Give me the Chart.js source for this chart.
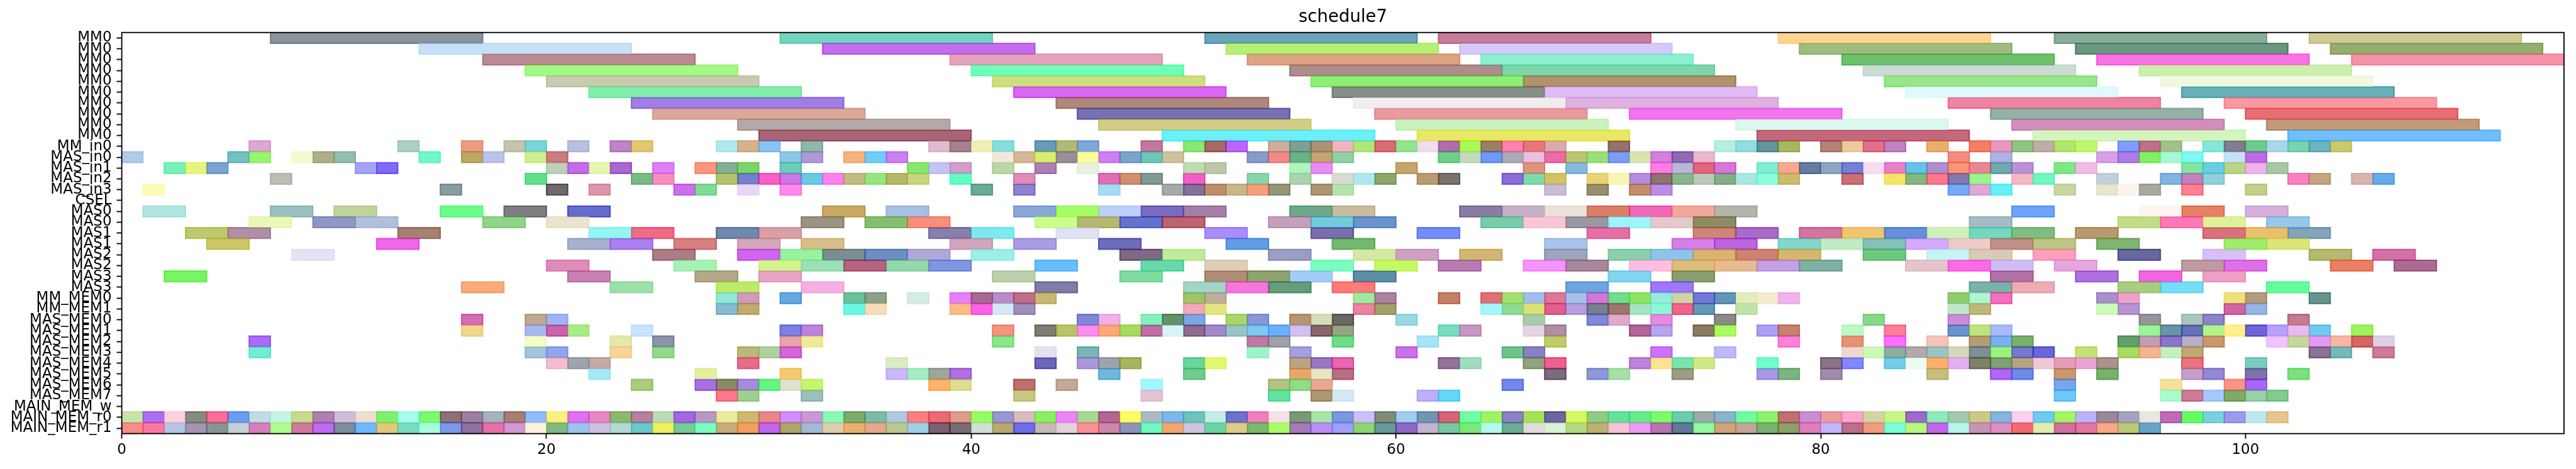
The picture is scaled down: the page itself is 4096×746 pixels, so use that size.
<!DOCTYPE html>
<html>
<head>
<meta charset="utf-8">
<title>schedule7</title>
<style>
  html, body { margin: 0; padding: 0; background: #fff; overflow: hidden; }
  canvas { display: block; }
</style>
<script src="https://cdn.jsdelivr.net/npm/chart.js@4/dist/chart.umd.min.js"></script>
</head>
<body>
<canvas id="chart" width="4096" height="746"></canvas>
<script>
const chartTitle = 'schedule7'
const xTicks = [0, 20, 40, 60, 80, 100]

const rowLabels = [
  'MM0', 'MM0', 'MM0', 'MM0', 'MM0', 'MM0', 'MM0', 'MM0', 'MM0', 'MM0',
  'MM_in0', 'MAS_in0', 'MAS_in1', 'MAS_in2', 'MAS_in3', 'CSEL',
  'MAS0', 'MAS0', 'MAS1', 'MAS1', 'MAS2', 'MAS2', 'MAS3', 'MAS3',
  'MM_MEM0', 'MM_MEM1',
  'MAS_MEM0', 'MAS_MEM1', 'MAS_MEM2', 'MAS_MEM3', 'MAS_MEM4', 'MAS_MEM5', 'MAS_MEM6', 'MAS_MEM7',
  'MAIN_MEM_w', 'MAIN_MEM_r0', 'MAIN_MEM_r1',
]

// how long a task stays on each row
const rowDurations = [
  10, 10, 10, 10, 10, 10, 10, 10, 10, 10,
  1, 1, 1, 1, 1, 1,
  2, 2, 2, 2, 2, 2, 2, 2,
  1, 1,
  1, 1, 1, 1, 1, 1, 1, 1,
  1, 1, 1,
]

// start time of every task, one list per row
const rowStarts = [
  [7, 31, 51, 62, 78, 91, 103],
  [14, 33, 52, 63, 79, 92, 104],
  [17, 39, 53, 64, 81, 93, 105],
  [19, 40, 55, 65, 82, 95],
  [20, 41, 56, 66, 83, 96],
  [22, 42, 57, 67, 84, 97],
  [24, 44, 58, 68, 86, 99],
  [25, 45, 59, 71, 88, 100],
  [29, 46, 60, 76, 89, 101],
  [30, 49, 61, 77, 90, 102],
  [6, 13, 16, 18, 19, 21, 23, 24, 28, 29, 30, 32, 38, 39, 40, 41, 43, 44, 45, 48, 50, 51, 52, 54, 55, 56, 57, 58, 59, 60, 61, 62, 63, 64, 65, 66, 67, 70, 75, 76, 77, 78, 80, 81, 82, 83, 85, 87, 88, 89, 90, 91, 92, 94, 95, 96, 98, 99, 100, 101, 102, 103, 104],
  [0, 5, 6, 8, 9, 10, 14, 16, 17, 19, 20, 31, 32, 34, 35, 36, 41, 42, 43, 44, 45, 46, 47, 48, 49, 53, 54, 55, 56, 57, 62, 63, 64, 65, 66, 67, 68, 69, 70, 71, 72, 73, 74, 86, 88, 93, 94, 95, 96, 97, 99, 100],
  [2, 3, 4, 11, 12, 20, 21, 22, 23, 25, 27, 28, 29, 31, 37, 38, 39, 41, 43, 45, 50, 51, 55, 56, 60, 66, 68, 72, 73, 74, 75, 77, 78, 79, 80, 81, 82, 83, 84, 85, 86, 87, 88, 89, 91, 92, 97, 98, 99, 100, 101],
  [7, 19, 24, 25, 28, 29, 30, 31, 32, 33, 34, 35, 36, 37, 39, 42, 46, 47, 48, 50, 53, 55, 57, 58, 59, 61, 62, 65, 66, 67, 69, 70, 71, 72, 73, 74, 75, 76, 77, 78, 81, 83, 84, 85, 86, 87, 89, 90, 93, 96, 97, 98, 102, 103, 105, 106],
  [1, 15, 20, 22, 26, 27, 29, 31, 40, 42, 46, 49, 50, 51, 52, 53, 54, 56, 57, 67, 69, 71, 72, 86, 87, 88, 91, 93, 94, 95, 97, 100],
  [],
  [1, 7, 10, 15, 18, 21, 33, 36, 42, 44, 46, 48, 50, 55, 57, 63, 65, 67, 69, 71, 73, 75, 89, 95, 97, 100],
  [6, 9, 11, 17, 20, 32, 35, 37, 43, 45, 47, 49, 54, 56, 58, 64, 66, 68, 70, 72, 74, 87, 94, 96, 98, 101],
  [3, 5, 13, 22, 24, 28, 30, 38, 40, 44, 51, 56, 61, 69, 74, 76, 79, 81, 83, 85, 87, 89, 92, 98, 100, 102],
  [4, 12, 21, 23, 26, 29, 32, 39, 42, 46, 52, 57, 67, 73, 75, 78, 80, 82, 84, 86, 88, 90, 93, 99, 101],
  [8, 25, 29, 31, 33, 35, 37, 40, 47, 49, 54, 58, 60, 63, 67, 70, 72, 74, 76, 78, 82, 85, 87, 90, 94, 98, 103, 106],
  [20, 26, 30, 32, 34, 36, 38, 43, 48, 51, 56, 59, 62, 66, 68, 71, 73, 75, 77, 79, 84, 86, 88, 91, 97, 99, 104, 107],
  [2, 21, 27, 30, 41, 47, 51, 53, 55, 58, 70, 73, 88, 92, 95, 98],
  [16, 23, 28, 32, 43, 50, 52, 54, 57, 68, 72, 87, 89, 94, 96, 101],
  [28, 29, 31, 34, 35, 37, 39, 40, 41, 42, 43, 50, 51, 58, 59, 62, 64, 65, 66, 67, 68, 69, 70, 71, 72, 73, 74, 75, 76, 77, 78, 86, 87, 88, 93, 94, 99, 100, 103],
  [28, 29, 34, 35, 39, 40, 41, 42, 50, 51, 58, 59, 64, 65, 66, 67, 68, 69, 70, 71, 72, 73, 74, 76, 86, 87, 93, 94, 99, 100],
  [16, 19, 20, 45, 46, 48, 49, 50, 52, 53, 55, 56, 57, 60, 66, 69, 70, 72, 75, 82, 86, 95, 97, 98, 102],
  [16, 19, 20, 21, 24, 31, 32, 41, 43, 44, 45, 46, 47, 48, 49, 50, 51, 52, 53, 54, 55, 56, 57, 62, 63, 66, 67, 71, 72, 74, 75, 77, 78, 81, 83, 86, 87, 88, 95, 96, 97, 98, 99, 100, 101, 102, 103, 105],
  [6, 19, 23, 25, 31, 32, 41, 53, 54, 57, 61, 67, 78, 81, 83, 85, 87, 88, 89, 94, 95, 96, 97, 98, 101, 102, 103, 104, 105, 106],
  [6, 19, 20, 23, 25, 29, 30, 31, 43, 45, 53, 55, 60, 65, 66, 72, 75, 81, 82, 83, 84, 85, 86, 87, 88, 89, 90, 92, 94, 95, 96, 97, 103, 104, 106],
  [20, 21, 22, 29, 36, 43, 45, 46, 47, 50, 51, 55, 56, 57, 62, 63, 66, 67, 71, 72, 73, 74, 77, 80, 81, 83, 84, 85, 86, 87, 88, 89, 90, 91, 92, 93, 97, 100],
  [22, 27, 31, 36, 37, 38, 39, 46, 50, 55, 56, 57, 67, 69, 70, 73, 77, 78, 80, 85, 88, 89, 91, 93, 97, 98, 100, 102],
  [24, 27, 28, 29, 30, 31, 32, 38, 39, 42, 44, 48, 54, 55, 56, 65, 91, 96, 99, 100],
  [28, 29, 32, 42, 48, 54, 56, 57, 61, 62, 91, 96, 97, 98, 99, 100, 101],
  [],
  [0, 1, 2, 3, 4, 5, 6, 7, 8, 9, 10, 11, 12, 13, 14, 15, 16, 17, 18, 19, 20, 21, 22, 23, 24, 25, 26, 27, 28, 29, 30, 31, 32, 33, 34, 35, 36, 37, 38, 39, 40, 41, 42, 43, 44, 45, 46, 47, 48, 49, 50, 51, 52, 53, 54, 55, 56, 57, 58, 59, 60, 61, 62, 63, 64, 65, 66, 67, 68, 69, 70, 71, 72, 73, 74, 75, 76, 77, 78, 79, 80, 81, 82, 83, 84, 85, 86, 87, 88, 89, 90, 91, 92, 93, 94, 95, 96, 97, 98, 99, 100, 101],
  [0, 1, 2, 3, 4, 5, 6, 7, 8, 9, 10, 11, 12, 13, 14, 15, 16, 17, 18, 19, 20, 21, 22, 23, 24, 25, 26, 27, 28, 29, 30, 31, 32, 33, 34, 35, 36, 37, 38, 39, 40, 41, 42, 43, 44, 45, 46, 47, 48, 49, 50, 51, 52, 53, 54, 55, 56, 57, 58, 59, 60, 61, 62, 63, 64, 65, 66, 67, 68, 69, 70, 71, 72, 73, 74, 75, 76, 77, 78, 79, 80, 81, 82, 83, 84, 85, 86, 87, 88, 89, 90, 91, 92, 93, 94, 95],
]

// colour each task shows on white, one string per row, same order as rowStarts
const rowColors = [
  '8B949E 74D3BE 6BA5BA C77C9C FFD592 89AD98 CFC996',
  'C5E0F7 C26FEF B6EF78 D4C9FA A0BD7F 6B9780 97AD70',
  'BC8B93 E5A3BD DCA584 8CF0D0 6EC16C FB73E4 F593A8',
  'A5F886 70FDBA AE8D8D 80D5AB CCDBD4 CCEFAE',
  'CACAB0 CEDF80 8EEE76 B0936C 98E688 F0F9E0',
  '84EDAA D965F5 858F88 E1BAF5 E0F8FF 68B0B8',
  'A07EE5 AF887C F1ECEE DDB3E0 EE83A2 FA98A2',
  'DBA899 7571B2 E89A9E F376EE 93B3A6 E86E76',
  'B5A8A6 D3CE85 CAF1BC DAF8EE D38FBC C49A7C',
  'A86476 6BEFFA E8E864 C46A7D D4F5BE 70BFFA',
  'DCA7D0 AAD0C6 EAA080 C2C4AC 7CD5D8 B7C1DC BF84C8 E0C874 B2E8EC D6B38D 88C4F4 8DB9A6 E1BAD3 A5838F F0EEB8 85DEDC 6A9AB6 B2B878 82A7D8 C478A0 8AE676 A86A68 B967FA CCAE9E 7F9F98 A99478 F4B4BE B0E878 D66E76 94E48E F0DDEB B06EAE A8FA58 9C7E68 FD82B0 E87878 D9ACAE 96706E B6EEDF 94DCE0 65949A A6B766 B58278 E8CC9E E0708E C084BE EBAE6E F37F6A E899BC 90C484 BFAEA8 B4E46E BEF870 7F9DFC BF7088 A6C08C 88E6D8 847C90 70CC8C A8D8EA 78D3B0 6FB4C0 C8CA70',
  'B0CAE8 72C0C2 98F474 F4FAD4 B0AE8C 94BEB0 70F8C8 BCA866 B8C4EA CEEE90 CA7C7E 8CC6E2 AE9AD6 F6B37A 74CCF8 CC82F2 F5E8DA D2B896 D8EC70 989098 FAFC9C CC80F2 7CA4CA 6EC6B8 CDC29C 889AC6 F08A8A 68B488 C6A474 90D0A6 6ED08C C6D9BC 7098F4 ADAAB4 EABFE2 EA6EA4 BDC472 9CDE7E 7F9CF4 D8E4B0 D47EDE 8F6AB2 EAB8CE F68B80 AEB2E0 D8A0E4 AE7EE6 82F064 A8F8D4 7FF8F0 C6E0F5 BC6CE4',
  '7AF0B8 E6F480 7CA4D0 A4A4F6 7F6CF4 BED0B8 C46CE8 E4F6B0 A86AD0 DE80F6 FD9680 88AE98 7ED46C 6CCDB8 8AE670 C4C4F4 D29ECC BCD6A6 AC80B6 E8F0E0 C2D9B4 BDC8AC AEF4BC E88CF6 C4A670 DC947E 8AB8DE FC7EE0 B7B7D8 E0647C D678D8 80ECD0 F8A892 647EA0 8EA6C0 7480D4 F8DCF4 E880C8 68C2E8 AE92CC FC9478 E98698 72A8AE BC92DA 7EE888 F0BCE6 84E4A4 6CCDE2 BAD488 EEB2EA A6C8A6',
  'BABEB4 62E08C 7CB988 F68EC4 B2C46C 7680C8 F860C4 CA78E2 6CC8E4 FC82F0 C0BC84 98E484 B7B86A C6D67E 66FCC0 DC8CB8 E06EB6 D08E74 809A94 F060C4 88D4AC ACD4AE DADAD2 AEE8EE 8CA66C BA9C72 78746C 8C6CD8 7EDAAC D4C268 E8D27A FAF4B4 B48EDC 8E746E 8CB68C BEC8BC 86AE84 AAE6E2 8EFCDC CABC6C CC6E74 F5E46C 84B880 FC7890 8278AE 98F48E F4B8C6 70F8C0 C2D0DA 82B2E0 C080BC 90D0DE FA80C0 C4A680 D8B4AE 68ACEA',
  'FEFAB8 889EA2 6E6A6C DC98AA CC70EC 80DA98 E8D8F6 FE88EC 6CAC98 8C84CE A4DCF4 A4AAA8 847498 C0906C C8B68C F4A07C 949878 AE9674 B4E4AE C8BCD6 98906E C4906C BC90E6 78A8F4 E0A8D6 68F0F8 C6D6A4 E9E4CE FCF4F2 A8AC9C FC8490 C4D08C',
  '',
  'B0E4E0 9BC0C2 C0D49C 6CFC8C 807E84 666CCC C8A862 A8C0E6 8AA8D6 A6FC68 BCD0F8 7A6CC0 A480A8 70A88C C8BCA0 8A7EA4 C6B2C6 E9E2D8 D98068 F06AB8 F0A89C B4B6AC 6EA4F8 FDF6F0 E58268 D4B0DC',
  'E8F8B8 9098C4 B2C0DE 90D488 EBE4CC 9C9484 86BE70 F88E7C CCFC8E B7B674 6672CC BC6470 C4A0BC 74CCDC 6B94CC 78CCA8 FAC6D6 9898A4 9CF4FC E4C8CC 8E8C64 A4BCC4 C4DC88 FC78B6 DEF09E 96C8E8',
  'BEC96E B090A6 A48274 94F6F0 ED6C86 7088AC DAA0A8 8680AA 7EEAF0 DEE2F4 A88EFA 7A6EAC 768CF8 E670A4 CE8678 A76CC8 D476A0 F0C470 6A90DC CEF0BA 72D8C0 84BC80 B89A70 D8747E E8C070 84A4BA',
  'CCC86A F068E8 A8B0D0 AC80F0 D68080 D4A8B8 D8BE88 D4A4BE AC9CE4 6E6CBC 669EE4 74B870 A8C4EA D580E6 BA66E0 84D6CC C0ECC4 84C0B8 D4ACFC EECAC8 C09088 BEC684 80B474 A0EC6C DCE47C',
  'E2E4F6 AC7C86 D264F0 98F2A0 7A8E94 6C8EC2 B2A8D8 9EEEE6 806A84 C0EA9C 9C9EC2 D4E8A4 D0A0C4 D2B672 9EA6BA 8CD0AC 90C4E8 D8B470 CC8470 D4B870 70C880 C6F4F4 D8CAB4 F8A0BC 6A68A0 D8C0F6 B4B870 D470A8',
  'DE8CBC A8F0B4 D2F48E 9CE0B8 B46480 94D8AC 8296E0 68BEFA 6AD8AC DECEB8 7CFDC0 C4F864 B87CB4 F594FC A8889C FDBEE0 DEBC7C E8BA94 C4A0E4 80B0A4 E6C4CC FA6CE4 D0BCF4 E4A8DC C09AA2 E06EE6 E98066 AC6C94',
  '78F466 C882B2 B4A888 E8A4C6 BCD0AC 82DCA0 B08E78 90A470 A4CCF6 5E90A8 84D4EE 88A070 B074A4 AE70DE F268E0 ECA0C4',
  'F8AC7C 9EE0A8 BEEA6C F4B0E2 807CA8 A4D4C8 F478DC 649C7C FC7C7A 70A4E0 9E78FC 7CB0A8 EEACB4 A8CC80 78DCF6 66FE9C',
  '92E8D4 D09CB8 68A8E0 70C09A 90A088 D4ECE4 E880FC A66C90 B48EC4 BC7088 C8B878 A0C46C BBAE9E A0E8A0 AC80A0 C48068 E07078 A4E070 A4BCEC DC7898 A8C0E8 D078D8 74DC90 90E464 96EAE0 CDD4A8 7478D4 6494B8 E4ECBE F4ECD2 F0B4EC 90CC70 B0F4D0 F470BC AA90CC EAA4CC F0E07C B49C80 689490',
  '88BCCE C2AC72 6CF8E4 FADBB8 FDBC88 FC64E8 D4E8F4 A08EBE F4A8B8 E4E684 EC84A0 A4A06C A6F6F8 90DC98 DCE078 E06090 B4A0DC 788090 9C7870 A6E4C4 8EF8D4 F0648C 6698B8 C0E4A8 C0E8C8 BEB87C CCFBBC B694D0 D068A4 98B4E0',
  'D46CB6 BFA890 A0B4F4 8088D8 F0B0E8 88F0BC 68906C 7CA8E0 A8D66C 8898D8 B89474 D4DEBC 6C6868 98D8E0 A8CCA8 8088D8 E0ACCA E888E0 8C8A88 88D88C CC8CD8 98949C ACC4BC 8C84C8 C47C90',
  'EFD68C A8B8F0 CC64AC ACEA88 C6E4FC 7C80E4 BE84DC F49484 807E74 BCC26C FA90F0 FCA878 A8DA64 C070A8 D8F4F4 906C8C A488C8 9AC4C4 80C8F0 6EB0FC CEC2EE 88686C 98A484 7ADCC0 C698C0 E4D4E4 B08EA4 B06898 B4A6EA 8A7C64 ACFA64 ACA0F4 C4846C BEF8C8 F88098 6C94CC C0E47C ACBAFC 9CF498 6C94A8 6A70B8 B4F490 FEF090 7068D4 B8A0FC E8BCF0 74C8EC 9CF460',
  'AC6CF8 F4FCC8 E4E8AC 8C94AC E4A4A8 F0EA98 8CE48C C078A4 A0A0A8 70DC88 A8E4F4 C0CC6C F884D8 E49474 FC70FC F4C4B4 B49C78 7CB0F0 7CB070 64A06C C49CB0 8C74CC B8B0C6 CC9870 F0C4FC C6D69C E49CF0 F4B8A4 D46868 E0D0E4',
  '74ECD4 A4C4DC 94A4E8 F8D498 94D88C BCB87C B0D0A0 D268D8 E8E0F0 7CB4B8 9CF4C8 A4A0E0 C874E8 6EC488 8C80C4 CC74FC C0B8FC F0D8D0 CCF8B8 8CB0A0 B4A8AC 9CC4C4 D4D8BC 7E9098 A0F080 7878CC 6868D8 C6E078 A8DC64 F4B490 C4F0C0 C0A874 8A7494 78B8B8 CC7C98',
  'F4BCD0 A0A4B0 C4ACA8 E86C90 D8ECC4 6C68B8 AC98D8 A0A4A8 A8B464 6CD49C E0F870 BCA480 9878C0 E868B0 947498 A0DCC0 90A47C F06090 BC84DC FAE494 7CE4B0 D0E888 74FCC8 8A7488 8088FC 74CCE8 ECFBF0 F8B070 E0B0F4 7C8468 80A078 B4A484 F0C8D8 E4A0B8 E8A4D4 A89488 E87484 7CCCC4',
  'A8E8F4 E4F0A0 F4CC70 CCB8F8 A8ECC4 9CA89C B070E0 70B8DC 70CC90 E4A86C E8E4C4 B87084 7C6C80 9098D8 A8E0A8 9C9E84 A898E4 7CB484 A08CAC C6BE80 B068F4 6C8CE8 C89870 7CB070 C4A0C8 9488D4 8074AC 7CE080',
  'AACC7C A870E4 8A8A68 A88CDC 68F484 E0E2CC C8F470 FCB46C DCDE94 BC7070 C4A898 A4F6FE B0C484 90DC8C E8A898 7488EC 78A8EC F4E09C FA9488 AC68F8',
  'FC7890 A0D090 9CC0BC C8C884 E4C4D4 64E4A0 AC9870 D4E8F4 BEB0F8 68D8F4 70C8F8 A8FCCC CC7C94 A8C8FA 80AC68 98D0A8 80CC90',
  '',
  'C6E4A8 AC70F0 FDD0DC 888C80 FC6C98 6C9CEC C0DCE4 C4F4E4 C6DC8C AE80B0 CEBCD8 EEDED0 80F070 A8FCEC 7CF870 907078 9C80A0 A4B4BC A48070 90BCFC F8F080 E070EC E888C0 8CB870 B880A0 BED8B8 A468E4 B898C4 E8EC9C CEB874 E88888 D090FC CC98D4 8CF8B8 7CAC6C 7CBCA4 B0C8E0 FC8080 E86C78 E09C8C 98FC64 9898D0 D8BCC0 88F064 EE84F8 A8D894 B06890 FAFC64 ACBCC8 7CB8EC 6CC4BC C4ECE8 6C74CC F080BC F8E0E8 7C9878 A8E4A8 7C98DC CCC0F8 808C78 A0CCF0 7494B4 D46478 70FCA8 A0F464 8C80C8 A4E45C 6C68A0 D4F864 90CC84 68E09C 68EC8C 7CFC6C 6CCCAC 9CAAA8 88B4CC 70FCA0 90F070 C07074 C890D4 EC9CA0 F8A8CC D4D4A8 C8F488 9C6CCC 8CECB8 A4C8B0 CEC888 88B4DC FCD0F0 70C8F4 A4F468 BCB4FA 9C8898 A4A4C0 E8E8E0 BC6CB8 68FC68 7CD0DC A098EC BCE8EC E8C490',
  'F48C8C FC78A0 B4C4E4 A494B0 889494 C4D0D4 D480BC B0FC90 D078A0 BC6CEC 7C8C9C 70B8FC E0C87C 78DCC0 A8FCDC 7C98E8 9070A0 E470A8 D098D4 FCF0D8 84B880 9CC4E8 CEC0E0 B4D8D4 6CC8C8 ECF060 78C898 7CFCC0 C8AC7C F0A060 BC68EC B0A468 A0BCD4 DECCAC E8B070 E4A890 B8C890 A0D0E8 7C6070 7C6C74 D0E0D8 B8A874 6C6CE8 C8B8B8 E0D4D8 FC9098 CC88A8 8C94BC 70F8C0 F0A874 CEC4E0 6CD4A4 DCCC8C 7CB870 A8FC6C A47CB8 BC90F4 A0A0FC 90D470 68989C 8C68C4 C0B4D0 78C8A4 7CE878 B4F8F0 6CAC94 E0DCDC D8F4D4 B4D880 BCB074 F4C4D4 EC9CF0 B874B0 647898 90F8A0 D0A478 C0A498 7CB074 8CA06C E080B8 C4B4FC B8708C F09C80 7CFCD8 B8F880 C068E8 B8F4EC C894B4 DC90C0 F06C74 E0ECB0 D070A0 E0789C F8A888 BCC878 68A4C8',
]

const barAlpha = 0.7
const fontFamily = '"DejaVu Sans"'

// rowColors are what shows on white, get back the colour to paint with barAlpha
function paintColor(hex) {
  const base = [0, 2, 4].map((i) => {
    const shown = parseInt(hex.slice(i, i + 2), 16)
    return Math.max(0, Math.round(255 - (255 - shown) / barAlpha))
  })
  return `rgba(${base[0]},${base[1]},${base[2]},${barAlpha})`
}

const bars = []
const barColors = []
rowStarts.forEach((starts, row) => {
  const colors = rowColors[row].split(' ').filter(Boolean)
  starts.forEach((start, i) => {
    bars.push({ x: [start, start + rowDurations[row]], y: row })
    barColors.push(paintColor(colors[i]))
  })
})

const frame = {
  id: 'frame',
  afterDraw(chart) {
    const { ctx, chartArea: a } = chart
    ctx.save()
    ctx.strokeStyle = '#000'
    ctx.lineWidth = 1.84
    ctx.strokeRect(a.left, a.top, a.right - a.left, a.bottom - a.top)
    ctx.restore()
  },
}

new Chart(document.getElementById('chart'), {
  type: 'bar',
  data: {
    datasets: [
      {
        data: bars,
        grouped: false,
        categoryPercentage: 1,
        barPercentage: 1,
        backgroundColor: barColors,
        borderWidth: 0,
        inflateAmount: 0,
      },
      // second pass for the outline, half of it outside the bar
      {
        data: bars,
        grouped: false,
        categoryPercentage: 1,
        barPercentage: 1,
        backgroundColor: 'rgba(0,0,0,0)',
        borderColor: barColors,
        borderWidth: 0.01,
        borderSkipped: false,
        inflateAmount: 1.15,
      },
    ],
  },
  plugins: [frame],
  options: {
    indexAxis: 'y',
    responsive: false,
    animation: false,
    events: [],
    layout: { padding: { left: 0, right: 19.1, top: 0, bottom: 0 } },
    plugins: {
      legend: { display: false },
      tooltip: { enabled: false },
      title: {
        display: true,
        fullSize: false,
        text: chartTitle,
        color: '#000',
        font: { family: fontFamily, size: 27.6, weight: 'normal', lineHeight: 1.2 },
        padding: { top: 11.2, bottom: 7.4 },
      },
    },
    scales: {
      x: {
        type: 'linear',
        min: 0,
        max: 115,
        afterFit(scale) { scale.height = 56.3 },
        afterBuildTicks(scale) { scale.ticks = xTicks.map((value) => ({ value })) },
        border: { display: false },
        grid: {
          drawOnChartArea: false,
          tickLength: 8,
          tickWidth: 1.84,
          tickColor: '#000',
        },
        ticks: {
          color: '#000',
          padding: 5,
          maxRotation: 0,
          autoSkip: false,
          font: { family: fontFamily, size: 23 },
        },
      },
      y: {
        type: 'linear',
        reverse: true,
        offset: false,
        min: -0.5,
        max: 36.5,
        afterFit(scale) { scale.width = 193.6 },
        afterBuildTicks(scale) { scale.ticks = rowLabels.map((_, value) => ({ value })) },
        border: { display: false },
        grid: {
          offset: false,
          drawOnChartArea: false,
          tickLength: 8,
          tickWidth: 1.84,
          tickColor: '#000',
        },
        ticks: {
          autoSkip: false,
          color: '#000',
          padding: 8,
          maxRotation: 0,
          font: { family: fontFamily, size: 23, lineHeight: 1 },
          callback: (value) => rowLabels[value],
        },
      },
    },
  },
})
</script>
</body>
</html>
